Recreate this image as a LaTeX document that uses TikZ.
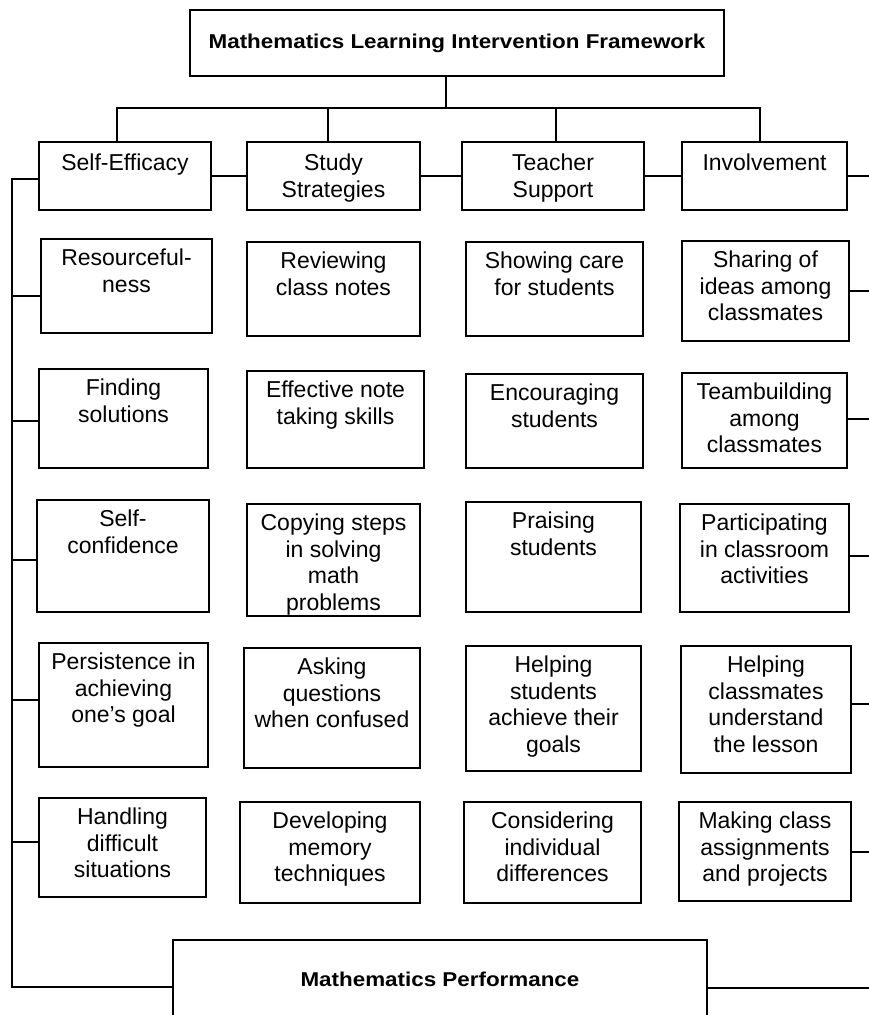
\documentclass[tikz,border=0pt]{standalone}
\usepackage{fontspec}
\setmainfont{Liberation Sans}
\newfontfamily\headfont[FakeStretch=1.12]{Liberation Sans}
\usetikzlibrary{positioning}

\begin{document}
\begin{tikzpicture}[x=1pt, y=1pt, line width=1.4pt]
    \tikzset{box/.style={draw, line width=1.4pt, inner sep=0pt},
             txt/.style={anchor=north, inner sep=0pt, yshift=-10pt, align=center, font=\fontsize{23}{26.5}\selectfont},
             toptxt/.style={txt, yshift=-2pt},
             head/.style={box, font=\headfont\bfseries\fontsize{20}{24}\selectfont}}
    \useasboundingbox (0,0) rectangle (869,1015);
    \node[head, minimum width=534pt, minimum height=66pt] (title) at (457,972) {Mathematics Learning Intervention Framework};
    \node[box, minimum width=172pt, minimum height=68pt, label={[toptxt]north:Self-Efficacy}] (se) at (125,839) {};
    \node[box, minimum width=173pt, minimum height=68pt, label={[toptxt]north:Study\\Strategies}] (ss) at (333.5,839) {};
    \node[box, minimum width=182pt, minimum height=68pt, label={[toptxt]north:Teacher\\Support}] (ts) at (553,839) {};
    \node[box, minimum width=165pt, minimum height=68pt, label={[toptxt]north:Involvement}] (inv) at (764.5,839) {};
    \node[box, minimum width=171pt, minimum height=94pt, label={[txt]north:Resourceful-\\ness}] (se1) at (126.5,729) {};
    \node[box, minimum width=169pt, minimum height=99pt, label={[txt]north:Finding\\solutions}] (se2) at (123.5,596.5) {};
    \node[box, minimum width=172pt, minimum height=112pt, label={[txt]north:Self-\\confidence}] (se3) at (123,459) {};
    \node[box, minimum width=169pt, minimum height=124pt, label={[txt]north:Persistence in\\achieving\\one’s goal}] (se4) at (123.5,310) {};
    \node[box, minimum width=167pt, minimum height=99pt, label={[txt]north:Handling\\difficult\\situations}] (se5) at (122.5,167.5) {};
    \node[box, minimum width=173pt, minimum height=94pt, label={[txt]north:Reviewing\\class notes}] (ss1) at (333.5,726) {};
    \node[box, minimum width=177pt, minimum height=97pt, label={[txt]north:Effective note\\taking skills}] (ss2) at (335.5,595.5) {};
    \node[box, minimum width=173pt, minimum height=112pt, label={[txt]north:Copying steps\\in solving\\math\\problems}] (ss3) at (333.5,455) {};
    \node[box, minimum width=176pt, minimum height=120pt, label={[txt]north:Asking\\questions\\when confused}] (ss4) at (332,307) {};
    \node[box, minimum width=180pt, minimum height=101pt, label={[txt]north:Developing\\memory\\techniques}] (ss5) at (330,162.5) {};
    \node[box, minimum width=177pt, minimum height=94pt, label={[txt]north:Showing care\\for students}] (ts1) at (554.5,726) {};
    \node[box, minimum width=177pt, minimum height=94pt, label={[txt]north:Encouraging\\students}] (ts2) at (554.5,594) {};
    \node[box, minimum width=175pt, minimum height=110pt, label={[txt]north:Praising\\students}] (ts3) at (553.5,458) {};
    \node[box, minimum width=175pt, minimum height=125pt, label={[txt]north:Helping\\students\\achieve their\\goals}] (ts4) at (553.5,306.5) {};
    \node[box, minimum width=177pt, minimum height=101pt, label={[txt]north:Considering\\individual\\differences}] (ts5) at (552.5,162.5) {};
    \node[box, minimum width=167pt, minimum height=100pt, label={[txt]north:Sharing of\\ideas among\\classmates}] (in1) at (765.5,724) {};
    \node[box, minimum width=165pt, minimum height=95pt, label={[txt]north:Teambuilding\\among\\classmates}] (in2) at (764.5,594.5) {};
    \node[box, minimum width=169pt, minimum height=108pt, label={[txt]north:Participating\\in classroom\\activities}] (in3) at (764.5,457) {};
    \node[box, minimum width=170pt, minimum height=127pt, label={[txt]north:Helping\\classmates\\understand\\the lesson}] (in4) at (766,305.5) {};
    \node[box, minimum width=172pt, minimum height=99pt, label={[txt]north:Making class\\assignments\\and projects}] (in5) at (765,163.5) {};
    \node[head, minimum width=534pt, minimum height=78pt] (mp) at (440,36) {Mathematics Performance};
    \coordinate (bus) at (446,907);
    \coordinate (rail) at (12,28);
    \coordinate (edge) at (869,0);
    \draw (title.south -| bus) -- (bus);
    \draw ([xshift=-8pt]se.north) |- (bus) -| ([xshift=-4.5pt]inv.north);
    \draw ([xshift=-5.5pt]ss.north) -- ([xshift=-5.5pt]ss.north |- bus);
    \draw ([xshift=3pt]ts.north) -- ([xshift=3pt]ts.north |- bus);
    \path[draw] (se) edge (ss) (ss) edge (ts) (ts) edge (inv);
    \draw (inv.east) -- (inv.east -| edge);
    \draw ([yshift=-3pt]se.west) -| (rail) -- (rail -| mp.west);
    \draw ([yshift=-9pt]mp.east) -- ([yshift=-9pt]mp.east -| edge);
    \foreach \n/\s in {se1/-10, se2/-2.5, se3/-4, se4/5, se5/5.5}
        \draw ([yshift=\s pt]\n.west) -- ([yshift=\s pt]\n.west -| rail);
    \foreach \n/\s in {in1/0, in2/1.5, in3/2, in4/5.5, in5/-0.5}
        \draw ([yshift=\s pt]\n.east) -- ([yshift=\s pt]\n.east -| edge);
\end{tikzpicture}
\end{document}
